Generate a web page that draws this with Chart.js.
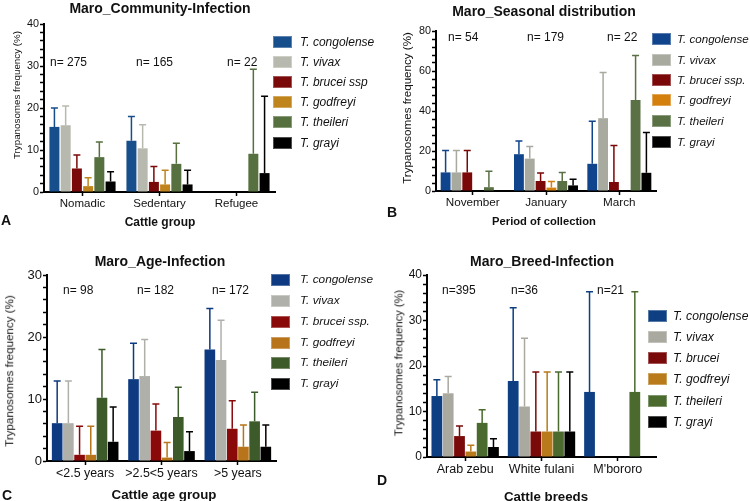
<!DOCTYPE html>
<html lang="en">
<head>
<meta charset="UTF-8">
<title>Maro trypanosome infection</title>
<script src="https://cdn.jsdelivr.net/npm/chart.js@4"></script>
<style>
  body { margin: 0; background: #fff; }
  #page { position: relative; width: 750px; height: 501px; overflow: hidden;
          font-family: 'Liberation Sans', Arial, sans-serif; color: #111; }
  canvas { position: absolute; }
  .t { position: absolute; white-space: nowrap; line-height: 1; transform: translate(-50%, -50%); }
  .l { position: absolute; white-space: nowrap; line-height: 1; transform: translate(0, -50%); }
  .sw { position: absolute; width: 19px; height: 12px; transform: translate(0, -50%);
        box-shadow: inset 0 0 0 1px rgba(255,255,255,0.3); }
</style>
</head>
<body>
<div id="page">
  <canvas id="cA" width="375" height="250" style="left:0;top:0"></canvas>
  <canvas id="cB" width="375" height="250" style="left:375px;top:0"></canvas>
  <canvas id="cC" width="375" height="251" style="left:0;top:250px"></canvas>
  <canvas id="cD" width="375" height="251" style="left:375px;top:250px"></canvas>
</div>
<script>
// species shown in each legend
const speciesA = ['T. congolense', 'T. vivax', 'T. brucei ssp', 'T. godfreyi', 'T. theileri', 'T. grayi'];
const speciesB = ['T. congolense', 'T. vivax', 'T. brucei ssp.', 'T. godfreyi', 'T. theileri', 'T. grayi'];
const speciesC = ['T. congolense', 'T. vivax', 'T. brucei ssp.', 'T. godfreyi', 'T. theileri', 'T. grayi'];
const speciesD = ['T. congolense', 'T. vivax', 'T. brucei', 'T. godfreyi', 'T. theileri', 'T. grayi'];

// A - community
const groupsA = ['Nomadic', 'Sedentary', 'Refugee'];
const countsA = ['n= 275', 'n= 165', 'n= 22'];
const meanA = [[15.5, 12.2, 0], [15.9, 10.4, 0], [5.6, 2.4, 0], [1.4, 1.8, 0], [8.3, 6.7, 9.1], [2.5, 1.8, 4.5]];
const upperA = [[20.0, 18.0, null], [20.5, 16.0, null], [8.8, 6.1, null], [3.4, 5.2, null], [11.9, 11.6, 29.2], [4.8, 5.2, 22.8]];

// B - season
const groupsB = ['November', 'January', 'March'];
const countsB = ['n= 54', 'n= 179', 'n= 22'];
const meanB = [[9.3, 18.4, 13.6], [9.3, 16.2, 36.4], [9.3, 5.0, 4.5], [0, 1.7, 0], [1.9, 5.0, 45.5], [0, 2.8, 9.1]];
const upperB = [[20.3, 25.0, 34.9], [20.3, 22.2, 59.3], [20.3, 9.0, 22.8], [null, 4.8, null], [9.9, 9.3, 67.8], [null, 5.9, 29.2]];

// C - age
const groupsC = ['<2.5 years', '>2.5<5 years', '>5 years'];
const countsC = ['n= 98', 'n= 182', 'n= 172'];
const meanC = [[6.1, 13.2, 18.0], [6.1, 13.7, 16.3], [1.0, 4.9, 5.2], [1.0, 0.55, 2.3], [10.2, 7.1, 6.4], [3.1, 1.6, 2.3]];
const upperC = [[12.9, 19.0, 24.6], [12.9, 19.6, 22.7], [5.6, 9.2, 9.7], [5.6, 3.0, 5.8], [18.0, 11.9, 11.1], [8.7, 4.7, 5.8]];

// D - breed
const groupsD = ['Arab zebu', 'White fulani', "M'bororo"];
const countsD = ['n=395', 'n=36', 'n=21'];
const meanD = [[13.4, 16.7, 14.3], [14.0, 11.1, 0], [4.6, 5.6, 0], [1.2, 5.6, 0], [7.5, 5.6, 14.3], [2.2, 5.6, 0]];
const upperD = [[17.0, 32.8, 36.3], [17.7, 26.1, null], [6.8, 18.7, null], [2.6, 18.7, null], [10.4, 18.7, 36.3], [4.0, 18.7, null]];

const colorsA = ['#174e8c', '#b8b9ae', '#7a0a0a', '#c0841c', '#56703f', '#000000'];
const colorsB = ['#10448c', '#a8aaa0', '#7a0808', '#d4800e', '#5a7045', '#000000'];
const colorsC = ['#0d3a80', '#b0b0ab', '#8a0a0a', '#b8741a', '#3d5a2a', '#000000'];
const colorsD = ['#0d3f82', '#a9a9a0', '#7a0a0a', '#b87a1a', '#4a6a2e', '#000000'];

const FONT = "'Liberation Sans', Arial, sans-serif";

// upward error bars with a cap, drawn after the bars
const errorBars = {
  id: 'errorBars',
  afterDatasetsDraw(chart) {
    const ctx = chart.ctx;
    const y = chart.scales.y;
    chart.data.datasets.forEach((ds, i) => {
      chart.getDatasetMeta(i).data.forEach((bar, j) => {
        const hi = ds.upper[j];
        if (hi == null) return;
        const top = y.getPixelForValue(hi);
        ctx.save();
        ctx.strokeStyle = ds.backgroundColor;
        ctx.lineWidth = 1.5;
        ctx.beginPath();
        ctx.moveTo(bar.x, bar.y);
        ctx.lineTo(bar.x, top);
        ctx.moveTo(bar.x - 3.5, top);
        ctx.lineTo(bar.x + 3.5, top);
        ctx.stroke();
        ctx.restore();
      });
    });
  }
};

function makeChart(id, p) {
  const datasets = p.species.map((s, i) => ({
    label: s,
    data: p.mean[i],
    upper: p.upper[i],
    backgroundColor: p.colors[i],
    borderWidth: 0,
    categoryPercentage: p.cat,
    barPercentage: p.bar
  }));
  return new Chart(document.getElementById(id), {
    type: 'bar',
    data: { labels: p.groups, datasets },
    plugins: [errorBars],
    options: {
      responsive: false,
      animation: false,
      devicePixelRatio: 1,
      layout: { padding: p.pad },
      plugins: { legend: { display: false }, tooltip: { enabled: false } },
      scales: {
        x: {
          afterFit: s => { s.height = 20; },
          border: { display: true, color: '#000', width: 2 },
          grid: { offset: false, drawOnChartArea: false, tickLength: 4, tickColor: '#000', tickWidth: 1.5 },
          ticks: { color: '#111', padding: 1, autoSkip: false, minRotation: 0, maxRotation: 0,
                   font: { family: FONT, size: p.catFont } }
        },
        y: {
          min: 0, max: p.max,
          afterFit: s => { s.width = 40; },
          border: { display: true, color: '#000', width: 2 },
          grid: { drawOnChartArea: false, tickLength: 4, tickColor: '#000', tickWidth: 1.5 },
          ticks: {
            stepSize: p.minor, autoSkip: false, padding: 1, color: '#111',
            font: { family: FONT, size: p.tickFont },
            callback: v => (v % p.major === 0 ? v : '')
          }
        }
      }
    }
  });
}

makeChart('cA', { species: speciesA, groups: groupsA, mean: meanA, upper: upperA, colors: colorsA,
  max: 40, major: 10, minor: 2, cat: 0.875, bar: 0.89, catFont: 11.5, tickFont: 10.8,
  pad: { left: 4, top: 24, right: 100, bottom: 38 } });
makeChart('cB', { species: speciesB, groups: groupsB, mean: meanB, upper: upperB, colors: colorsB,
  max: 80, major: 20, minor: 4, cat: 0.886, bar: 0.91, catFont: 11.7, tickFont: 10.8,
  pad: { left: 21, top: 31, right: 94, bottom: 39 } });
makeChart('cC', { species: speciesC, groups: groupsC, mean: meanC, upper: upperC, colors: colorsC,
  max: 30, major: 10, minor: 2, cat: 0.88, bar: 0.95, catFont: 12.4, tickFont: 13,
  pad: { left: 7, top: 25, right: 99, bottom: 20 } });
makeChart('cD', { species: speciesD, groups: groupsD, mean: meanD, upper: upperD, colors: colorsD,
  max: 40, major: 10, minor: 2, cat: 0.89, bar: 0.95, catFont: 12.5, tickFont: 12,
  pad: { left: 12, top: 25, right: 94, bottom: 24 } });

// page texts
const page = document.getElementById('page');
function put(cls, text, x, y, css) {
  const d = document.createElement('div');
  d.className = cls;
  d.textContent = text;
  d.style.left = x + 'px';
  d.style.top = y + 'px';
  Object.assign(d.style, css || {});
  page.appendChild(d);
  return d;
}
function yTitle(x, y, size) {
  put('t', 'Trypanosomes frequency (%)', x, y, { fontSize: size + 'px', transform: 'translate(-50%,-50%) rotate(-90deg)' });
}
function legend(names, colors, swX, txtX, rows, size) {
  names.forEach((n, i) => {
    const s = document.createElement('div');
    s.className = 'sw';
    s.style.left = swX + 'px';
    s.style.top = rows[i] + 'px';
    s.style.background = colors[i];
    page.appendChild(s);
    put('l', n, txtX, rows[i], { fontSize: size + 'px', fontStyle: 'italic' });
  });
}
function counts(list, xs, y) {
  list.forEach((c, i) => put('l', c, xs[i], y, { fontSize: '12px' }));
}
const bold = size => ({ fontSize: size + 'px', fontWeight: 'bold' });

// A
put('t', 'Maro_Community-Infection', 160, 8, bold(14));
put('t', 'Cattle group', 160, 222, bold(12));
put('t', 'A', 6, 220, bold(14));
yTitle(17, 95, 9.8);
counts(countsA, [50, 136, 227], 62);
legend(speciesA, colorsA, 273, 300, [42, 62, 82, 102, 122, 143], 12);

// B
put('t', 'Maro_Seasonal distribution', 544, 11, bold(14));
put('t', 'Period of collection', 544, 222, bold(11.2));
put('t', 'B', 392, 212, bold(14));
yTitle(407, 108, 11.6);
counts(countsB, [448, 527, 607], 37);
legend(speciesB, colorsB, 652, 677, [39, 60, 80, 100, 121, 142], 11.6);

// C
put('t', 'Maro_Age-Infection', 160, 261, bold(14));
put('t', 'Cattle age group', 164, 495, bold(13.3));
put('t', 'C', 7, 495, bold(14));
yTitle(9, 371, 11.6);
counts(countsC, [63, 137, 212], 290);
legend(speciesC, colorsC, 271, 300, [280, 301, 322, 343, 363, 384], 11.8);

// D
put('t', 'Maro_Breed-Infection', 542, 261, bold(14));
put('t', 'Cattle breeds', 546, 497, bold(13.3));
put('t', 'D', 382, 480, bold(14));
yTitle(399, 363, 11.2);
counts(countsD, [442, 511, 597], 290);
legend(speciesD, colorsD, 648, 673, [316, 337, 358, 379, 401, 422], 12.2);
</script>
</body>
</html>
